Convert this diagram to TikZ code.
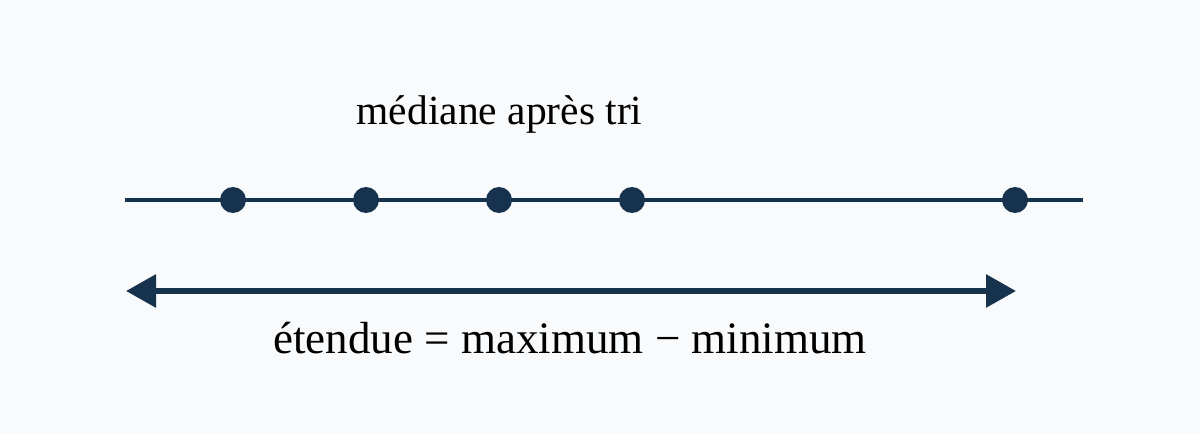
\documentclass[tikz,border=0pt]{standalone}
\usepackage{fontspec}
\setmainfont{Liberation Serif}
\usetikzlibrary{arrows.meta}
\definecolor{navy}{HTML}{17324D}
\definecolor{bg}{HTML}{F8FAFC}
\tikzset{
  dot/.style={circle,fill=navy,inner sep=0pt,minimum size=26pt},
  axisline/.style={draw=navy,line width=4pt},
  rangearrow/.style={draw=navy,line width=6pt,{Triangle[length=30pt,width=32pt]}-{Triangle[length=30pt,width=32pt]}},
  lbl/.style={anchor=base,inner sep=0pt,text=black}
}
\begin{document}
\begin{tikzpicture}[x=1pt,y=-1pt]
\fill[bg] (0,0) rectangle (1200,433);
\useasboundingbox (0,0) rectangle (1200,433);
\coordinate (L) at (125,200);
\coordinate (R) at (1083,200);
\draw[axisline] (L) -- (R);
\node[dot] (d1) at (233,200) {};
\node[dot] (d2) at (366,200) {};
\node[dot] (d3) at (499,200) {};
\node[dot] (d4) at (632,200) {};
\node[dot] (d5) at (1015,200) {};
\coordinate (AL) at (126,291);
\coordinate (AR) at (1016,291);
\draw[rangearrow] (AL) -- (AR);
\node[lbl,font=\fontsize{41.5pt}{41.5pt}\selectfont] (med) at (499.5,125) {médiane après tri};
\node[lbl,font=\fontsize{45pt}{45pt}\selectfont] (ext) at (570,353) {étendue = maximum − minimum};
\end{tikzpicture}
\end{document}
